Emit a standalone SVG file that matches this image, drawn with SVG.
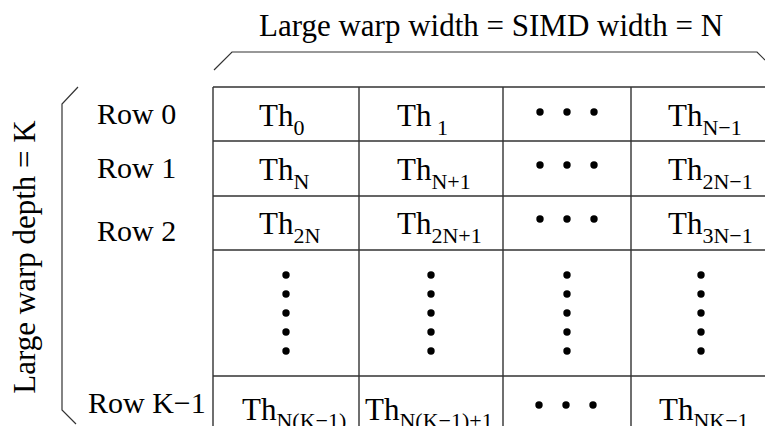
<svg xmlns="http://www.w3.org/2000/svg" width="765" height="426" viewBox="0 0 765 426">
<style>
text{font-family:"Liberation Serif","Times New Roman",serif;fill:#000}
.t{font-size:31px}
.r{font-size:30px}
.s{font-size:22px}
.ln{stroke:#333;stroke-width:1.4;fill:none}
.br{stroke:#333;stroke-width:1.2;fill:none}
.d{fill:#000}
</style>
<defs>
<circle id="dot" r="3.7" class="d"/>
</defs>
<rect width="765" height="426" fill="#fff"/>
<g id="title"><text class="t" x="491" y="36" text-anchor="middle">Large warp width = SIMD width = N</text></g>
<g id="depth-label"><text class="t" transform="translate(35,257) rotate(-90)" text-anchor="middle">Large warp depth = K</text></g>
<g id="connectors">
<path class="br" d="M214,70 L232,52 L757,52 L765,60"/>
<path class="br" d="M78,87 L62,104 L62,410 L76,424"/>
</g>
<g id="grid">
<path class="ln" d="M213,87H765M213,141H765M213,196H765M213,250H765M213,376H765M213,87V426M359,87V426M503,87V426M631,87V426"/>
</g>
<g id="row-labels">
<text class="r" x="97" y="124">Row 0</text>
<text class="r" x="97" y="178">Row 1</text>
<text class="r" x="97" y="241">Row 2</text>
<text class="r" x="88" y="413">Row K−1</text>
</g>
<g id="row0">
<text class="t" x="259" y="126">Th<tspan class="s" dy="9">0</tspan></text>
<text class="t" x="397" y="126">Th<tspan class="s" dy="9"> 1</tspan></text>
<g transform="translate(0,112)"><use href="#dot" x="540"/><use href="#dot" x="567"/><use href="#dot" x="594"/></g>
<text class="t" x="668" y="126">Th<tspan class="s" dy="9">N−1</tspan></text>
</g>
<g id="row1">
<text class="t" x="259" y="180">Th<tspan class="s" dy="9">N</tspan></text>
<text class="t" x="397" y="180">Th<tspan class="s" dy="9">N+1</tspan></text>
<g transform="translate(0,165)"><use href="#dot" x="540"/><use href="#dot" x="567"/><use href="#dot" x="594"/></g>
<text class="t" x="668" y="180">Th<tspan class="s" dy="9">2N−1</tspan></text>
</g>
<g id="row2">
<text class="t" x="259" y="234">Th<tspan class="s" dy="9">2N</tspan></text>
<text class="t" x="397" y="234">Th<tspan class="s" dy="9">2N+1</tspan></text>
<g transform="translate(0,219)"><use href="#dot" x="540"/><use href="#dot" x="567"/><use href="#dot" x="594"/></g>
<text class="t" x="668" y="234">Th<tspan class="s" dy="9">3N−1</tspan></text>
</g>
<g id="row-ellipsis">
<g transform="translate(286,0)"><use href="#dot" y="275"/><use href="#dot" y="294"/><use href="#dot" y="313"/><use href="#dot" y="332"/><use href="#dot" y="351"/></g>
<g transform="translate(431,0)"><use href="#dot" y="275"/><use href="#dot" y="294"/><use href="#dot" y="313"/><use href="#dot" y="332"/><use href="#dot" y="351"/></g>
<g transform="translate(567,0)"><use href="#dot" y="275"/><use href="#dot" y="294"/><use href="#dot" y="313"/><use href="#dot" y="332"/><use href="#dot" y="351"/></g>
<g transform="translate(701,0)"><use href="#dot" y="275"/><use href="#dot" y="294"/><use href="#dot" y="313"/><use href="#dot" y="332"/><use href="#dot" y="351"/></g>
</g>
<g id="rowK">
<text class="t" x="242" y="420">Th<tspan class="s" dy="8">N(K−1)</tspan></text>
<text class="t" x="365" y="420">Th<tspan class="s" dy="8">N(K−1)+1</tspan></text>
<g transform="translate(0,405)"><use href="#dot" x="539"/><use href="#dot" x="566"/><use href="#dot" x="593"/></g>
<text class="t" x="659" y="420">Th<tspan class="s" dy="8">NK−1</tspan></text>
</g>
</svg>
